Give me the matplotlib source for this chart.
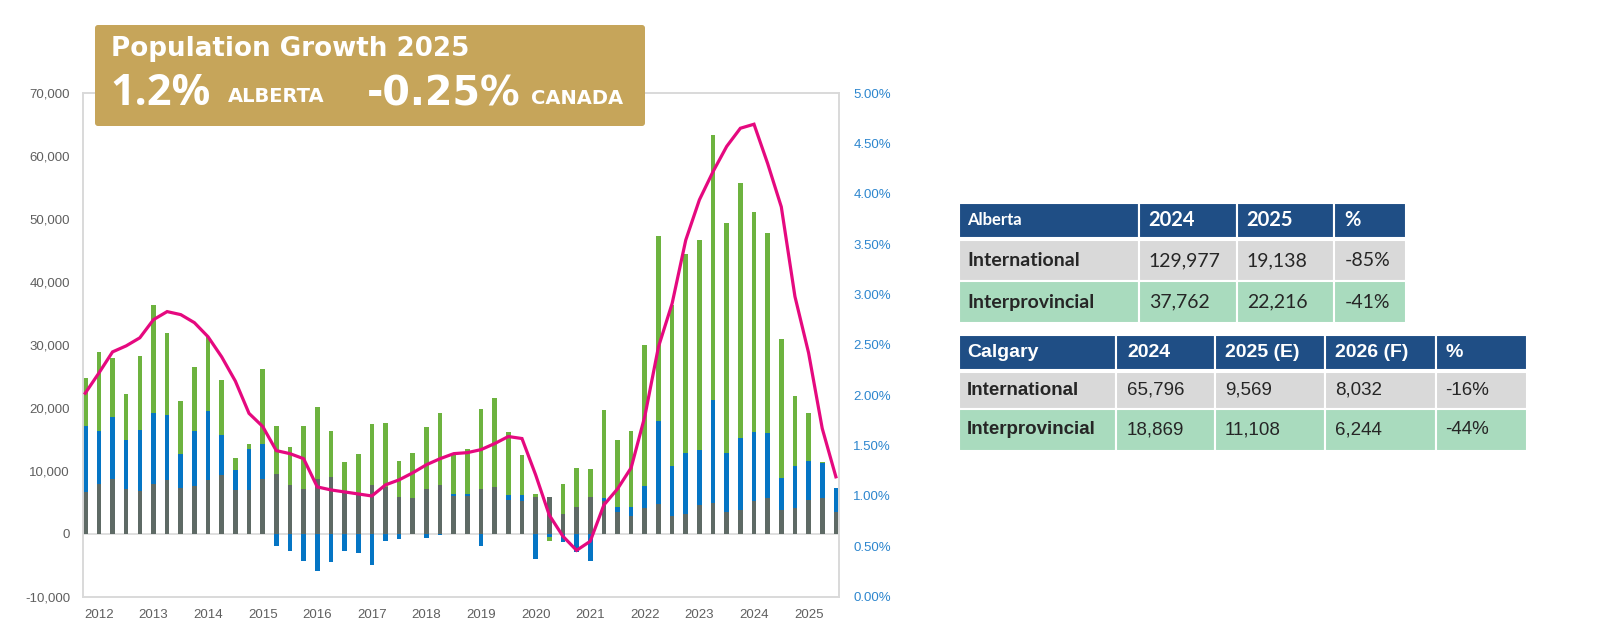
import matplotlib
matplotlib.use("Agg")
import numpy as np
import matplotlib.pyplot as plt
from matplotlib.patches import Rectangle, FancyBboxPatch

# quarterly components of Alberta population growth (persons)
years = [str(y) for y in range(2012, 2026)]
natural_increase = [6560, 7940, 8730, 7090, 6720, 7880, 8570, 7250, 7510, 8470,
                    9260, 6980, 6980, 8650, 9420, 7670, 7090, 8620, 8940, 6400,
                    6140, 7780, 7410, 5870, 5710, 7140, 7720, 5980, 5980, 7090,
                    7410, 5400, 5190, 5770, 5770, 3120, 4230, 5800, 5200, 3520,
                    2860, 4130, 4760, 2800, 3070, 4600, 4920, 3440, 3810, 5240,
                    5660, 3810, 4020, 5340, 5600, 3400]
interprovincial = [10480, 8300, 9740, 7720, 9680, 11270, 10210, 5400, 8730, 10950,
                   6350, 3070, 6460, 5650, -1960, -2700, -4340, -5930, -4500, -2800,
                   -3020, -4970, -1220, -900, 0, -690, -260, 300, 300, -1960,
                   0, 740, 950, -4020, -580, -1320, -2960, -4360, 400, 710,
                   1370, 3440, 13120, 7890, 9790, 8630, 16400, 9420, 11430, 10900,
                   10320, 4970, 6670, 6190, 5620, 3850]
international = [7720, 12700, 9410, 7410, 11850, 17200, 13120, 8510, 10210, 11900,
                 8730, 2010, 850, 11940, 7620, 6030, 9950, 11430, 7300, 4920,
                 6450, 9680, 10100, 5660, 7090, 9740, 11490, 6370, 7110, 12700,
                 14070, 10050, 6400, 470, -530, 4760, 6140, 4430, 14000, 10710,
                 12010, 22480, 29420, 25710, 31640, 33440, 42070, 36510, 40420, 34920,
                 31850, 22120, 11110, 7620, 200, 0]
growth_pct = [2.02, 2.22, 2.43, 2.49, 2.57, 2.75, 2.83, 2.80, 2.72, 2.58,
              2.38, 2.14, 1.82, 1.69, 1.45, 1.42, 1.37, 1.09, 1.06, 1.04,
              1.02, 1.00, 1.11, 1.16, 1.23, 1.31, 1.37, 1.42, 1.43, 1.46,
              1.52, 1.59, 1.57, 1.21, 0.81, 0.60, 0.46, 0.55, 0.91, 1.07,
              1.28, 1.79, 2.48, 2.91, 3.54, 3.94, 4.22, 4.47, 4.65, 4.69,
              4.30, 3.87, 2.98, 2.42, 1.67, 1.19]

# tables
ab_header = ["Alberta", "2024", "2025", "%"]
ab_rows = [["International", "129,977", "19,138", "-85%"],
           ["Interprovincial", "37,762", "22,216", "-41%"]]
cgy_header = ["Calgary", "2024", "2025 (E)", "2026 (F)", "%"]
cgy_rows = [["International", "65,796", "9,569", "8,032", "-16%"],
            ["Interprovincial", "18,869", "11,108", "6,244", "-44%"]]

GREY = "#5E6A65"
BLUE = "#0575C4"
GREEN = "#6DB33F"
PINK = "#E5097F"
FRAME = "#D9D9D9"
NAVY = "#1F4E85"
ROW_GREY = "#D9D9D9"
ROW_GREEN = "#A9DBBE"
GOLD = "#C6A55A"

W, H = 1600, 640
fig = plt.figure(figsize=(16, 6.4), dpi=100)
fig.patch.set_facecolor("white")

# main chart, placed in pixel terms
left, right, top, bottom = 82.5, 839.3, 93, 596.7
ax = fig.add_axes([left / W, 1 - bottom / H, (right - left) / W, (bottom - top) / H])

x = np.arange(len(natural_increase))
pos_base = np.zeros(len(x))
neg_base = np.zeros(len(x))
for vals, color in [(natural_increase, GREY), (interprovincial, BLUE), (international, GREEN)]:
    v = np.array(vals, dtype=float)
    base = np.where(v >= 0, pos_base, neg_base)
    ax.bar(x, v, width=0.34, bottom=base, color=color, zorder=2)
    pos_base += np.clip(v, 0, None)
    neg_base += np.clip(v, None, 0)

ax.axhline(0, color=FRAME, lw=1.2, zorder=1)
ax.set_xlim(-0.2, 55.25)
ax.set_ylim(-10000, 70000)
ax.set_yticks(range(-10000, 70001, 10000))
ax.set_yticklabels([f"{v:,}" for v in range(-10000, 70001, 10000)],
                   family="Liberation Sans")
ax.set_xticks(x[1::4])
ax.set_xticklabels(years, family="Liberation Sans")
ax.tick_params(axis="both", length=0, labelsize=9.5, labelcolor="#5f5f5f")
ax.tick_params(axis="y", pad=9)
ax.tick_params(axis="x", pad=9)
for s in ax.spines.values():
    s.set_color(FRAME)
    s.set_linewidth(1.2)

ax2 = ax.twinx()
ax2.plot(x, growth_pct, color=PINK, lw=2.3, solid_joinstyle="miter", zorder=3)
ax2.set_ylim(0, 5)
ticks = np.arange(0, 5.01, 0.5)
ax2.set_yticks(ticks)
ax2.set_yticklabels([f"{t:.2f}%" for t in ticks], family="Liberation Sans")
ax2.tick_params(axis="y", length=0, labelsize=9.5, labelcolor="#2D86CE", pad=10)
for s in ax2.spines.values():
    s.set_color(FRAME)
    s.set_linewidth(1.2)

# overlay in image pixel coordinates for title box and tables
ov = fig.add_axes([0, 0, 1, 1])
ov.set_xlim(0, W)
ov.set_ylim(H, 0)
ov.axis("off")

ov.add_patch(FancyBboxPatch((95, 25), 550, 101, boxstyle="round,pad=0,rounding_size=3",
                            fc=GOLD, ec="none"))
ov.text(111, 49, "Population Growth 2025", color="white", fontsize=18.8,
        fontweight="bold", va="center", ha="left", family="DejaVu Sans")
ov.text(110, 105, "1.2%", color="white", fontsize=31, fontweight="bold",
        va="baseline", ha="left", family="Open Sans")
ov.text(228, 102, "ALBERTA", color="white", fontsize=14, fontweight="bold",
        va="baseline", ha="left", family="DejaVu Sans")
ov.text(367, 105, "-0.25%", color="white", fontsize=28.5, fontweight="bold",
        va="baseline", ha="left", family="DejaVu Sans")
ov.text(531, 104, "CANADA", color="white", fontsize=14, fontweight="bold",
        va="baseline", ha="left", family="DejaVu Sans")


def draw_table(cols, rows_y, header, rows, family, head_sizes, body_size, pads):
    fills = [NAVY, ROW_GREY, ROW_GREEN]
    content = [header] + rows
    for r, (y0, y1) in enumerate(rows_y):
        for c in range(len(cols) - 1):
            x0, x1 = cols[c], cols[c + 1]
            ov.add_patch(Rectangle((x0, y0), x1 - x0, y1 - y0, fc=fills[r],
                                   ec="white", lw=1.5))
            txt = content[r][c]
            if r == 0:
                ov.text(x0 + pads[c], (y0 + y1) / 2, txt, color="white",
                        fontsize=head_sizes[c], fontweight="bold", family=family,
                        va="center", ha="left")
            else:
                ov.text(x0 + pads[c], (y0 + y1) / 2, txt, color="#262626",
                        fontsize=body_size, family=family, va="center", ha="left",
                        fontweight="bold" if c == 0 else "normal")


draw_table([959, 1138.7, 1236.7, 1334.3, 1406],
           [(202.7, 237.5), (239.5, 281.3), (281.3, 323)],
           ab_header, ab_rows, "Lato", [12, 14.5, 14.5, 14.5], 14,
           [8, 10, 10, 10])
draw_table([959, 1116, 1215, 1324.7, 1435.5, 1527],
           [(335, 370), (371.7, 409), (409, 451)],
           cgy_header, cgy_rows, "Liberation Sans", [14, 14, 14, 14, 14], 13.5,
           [8, 11, 10, 10, 10])

fig.savefig("out.png", dpi=100, facecolor="white")
